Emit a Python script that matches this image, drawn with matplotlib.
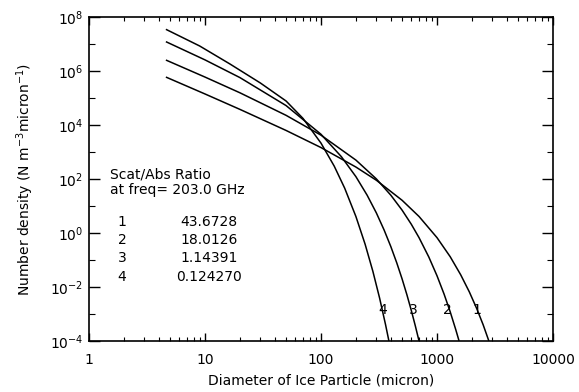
import matplotlib
matplotlib.use("Agg")
import matplotlib.pyplot as plt
from matplotlib.ticker import FixedLocator, NullFormatter, FixedFormatter

# Ice particle size distributions (diameter in micron, number density N m^-3 micron^-1)
d1 = [4.6, 10, 20, 50, 100, 200, 300, 500, 700, 1000, 1300, 1600, 1900, 2200, 2500, 2800]
n1 = [5.97e5, 1.41e5, 3.79e4, 6.28e3, 1.46e3, 277, 90.0, 16.3, 4.09, 0.673, 0.132,
      2.84e-2, 6.58e-3, 1.59e-3, 3.98e-4, 1.0e-4]

d2 = [4.6, 10, 20, 50, 100, 200, 300, 400, 500, 600, 700, 850, 1000, 1150, 1300, 1450, 1550]
n2 = [2.55e6, 5.96e5, 1.56e5, 2.28e4, 4.20e3, 501, 101, 25.1, 7.03, 2.12, 0.673, 0.129,
      2.61e-2, 5.50e-3, 1.20e-3, 2.67e-4, 1.0e-4]

d3 = [4.6, 10, 20, 50, 100, 150, 200, 250, 300, 350, 400, 450, 500, 550, 600, 650, 700]
n3 = [1.22e7, 2.58e6, 5.70e5, 5.24e4, 4.53e3, 667, 122, 25.0, 5.55, 1.29, 0.313, 7.82e-2,
      2.00e-2, 5.19e-3, 1.37e-3, 3.66e-4, 1.0e-4]

d4 = [4.6, 9, 16.4, 30, 50, 70, 100, 130, 160, 200, 240, 280, 320, 360, 385]
n4 = [3.50e7, 8.43e6, 1.82e6, 3.60e5, 7.74e4, 1.75e4, 2.13e3, 300, 45.8, 4.07, 0.385,
      3.81e-2, 3.89e-3, 4.06e-4, 1.0e-4]

curve_ids = ["1", "2", "3", "4"]
ratios = ["43.6728", "18.0126", "1.14391", "0.124270"]
label_d = [2213, 1219, 621, 342]
label_n = 1.4e-3

x_ticks = [1, 10, 100, 1000, 10000]
x_ticklabels = ["1", "10", "100", "1000", "10000"]
y_major = [1e-4, 1e-2, 1e0, 1e2, 1e4, 1e6, 1e8]
y_ticklabels = [r"$10^{-4}$", r"$10^{-2}$", r"$10^{0}$", r"$10^{2}$",
                r"$10^{4}$", r"$10^{6}$", r"$10^{8}$"]
y_minor = [1e-3, 1e-1, 1e1, 1e3, 1e5, 1e7]

plt.rcParams["font.family"] = ["DejaVu Sans"]
plt.rcParams["mathtext.fontset"] = "dejavusans"

W, H = 579, 392
fig = plt.figure(figsize=(W / 100, H / 100), dpi=100)
ax = fig.add_axes([89 / W, (H - 341) / H, (553 - 89) / W, (341 - 17) / H])
ax.set_xscale("log")
ax.set_yscale("log")
ax.set_xlim(1, 1e4)
ax.set_ylim(1e-4, 1e8)

for d, n in [(d1, n1), (d2, n2), (d3, n3), (d4, n4)]:
    ax.plot(d, n, color="black", lw=1.1, solid_capstyle="butt")

for cid, xd in zip(curve_ids, label_d):
    ax.text(xd, label_n, cid, ha="center", va="center", fontsize=10, color="black")


def px_text(x, y, s, ha="left"):
    """Place text at pixel position measured from the top-left corner."""
    fig.text(x / W, 1 - y / H, s, fontsize=10, va="center", ha=ha)


# Legend block
px_text(110, 174, "Scat/Abs Ratio")
px_text(110, 190, "at freq= 203.0 GHz")
rows_y = [222, 240, 258, 277]
for cid, r, yy in zip(curve_ids, ratios, rows_y):
    px_text(122, yy, cid, ha="center")
    px_text(209, yy, r, ha="center")

ax.xaxis.set_major_locator(FixedLocator(x_ticks))
ax.xaxis.set_major_formatter(FixedFormatter(x_ticklabels))
ax.yaxis.set_major_locator(FixedLocator(y_major))
ax.yaxis.set_major_formatter(FixedFormatter(y_ticklabels))
ax.yaxis.set_minor_locator(FixedLocator(y_minor))
ax.yaxis.set_minor_formatter(NullFormatter())
ax.xaxis.set_minor_formatter(NullFormatter())

ax.tick_params(axis="both", which="both", direction="in", top=True, right=True,
               colors="black", labelsize=10)
ax.tick_params(axis="x", which="major", length=6, width=1.0, pad=9)
ax.tick_params(axis="x", which="minor", length=3, width=0.8)
ax.tick_params(axis="y", which="major", length=8, width=1.0, pad=4)
ax.tick_params(axis="y", which="minor", length=4, width=0.8)
for s in ax.spines.values():
    s.set_linewidth(1.2)

ax.set_xlabel("Diameter of Ice Particle (micron)", fontsize=10, labelpad=4)
ax.set_ylabel(r"Number density (N m$^{-3}$micron$^{-1}$)", fontsize=10, labelpad=10)

fig.savefig("out.png", dpi=100)
